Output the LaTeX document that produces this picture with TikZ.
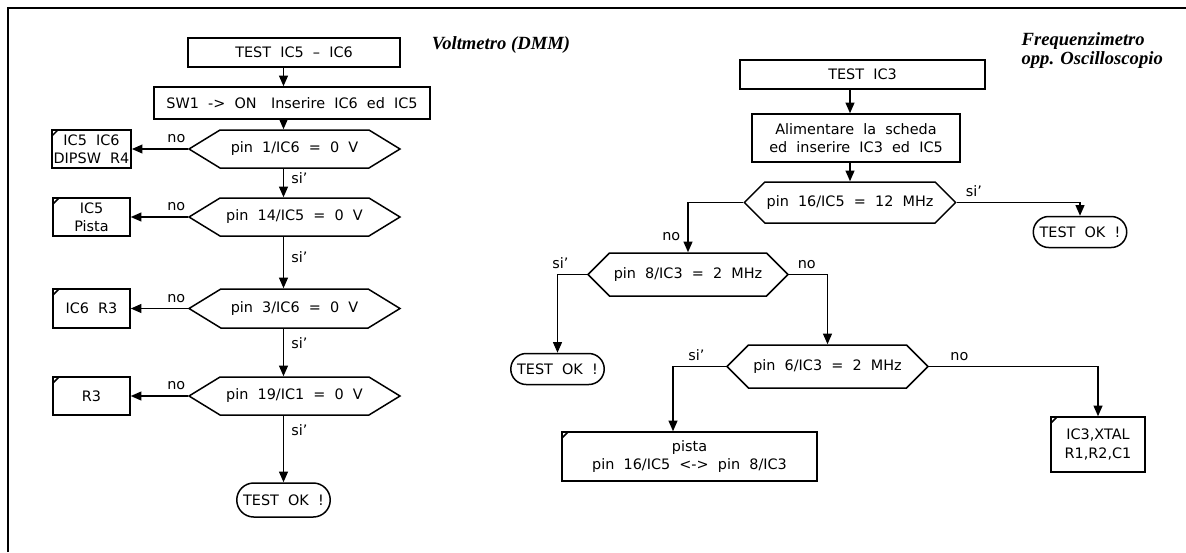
\documentclass[tikz,border=0pt]{standalone}
\usepackage{fontspec}
\setmainfont{DejaVu Sans}[WordSpace=2.0]
\newfontfamily\titlefont{Liberation Serif}
\usetikzlibrary{shapes.symbols, shapes.misc, arrows.meta}

\begin{document}
\begin{tikzpicture}[
    x=0.02cm, y=-0.02cm,
    font=\fontsize{8.2}{10.5}\selectfont,
    line width=0.85pt,
    arr/.style={-{Triangle[length=6pt, width=5pt]}},
    box/.style={rectangle, draw, inner sep=1pt, align=center},
    fault/.style={box, path picture={\draw (path picture bounding box.north west) ++(0.12cm,0) -- ++(-0.12cm,-0.12cm);}},
    hex/.style={signal, signal to=east and west, signal pointer angle=#1, draw, inner sep=1pt},
    okbox/.style={rounded rectangle, draw, inner sep=1pt, minimum width=1.94cm, minimum height=0.62cm},
    lbl/.style={inner sep=1pt},
    heading/.style={font=\titlefont\fontsize{10.6}{11}\selectfont\bfseries\itshape, align=left},
]
    \useasboundingbox (0,0) rectangle (1186,552);
    \draw[line width=1.1pt] (8,552) -- (8,8) -- (1186,8);

    % Voltmetro (DMM)
    \node[heading] (vt) at (501,45) {Voltmetro (DMM)};
    \node[box, minimum width=4.24cm, minimum height=0.58cm] (t1) at (294,52.5) {TEST IC5 -- IC6};
    \node[box, minimum width=5.52cm, minimum height=0.64cm] (s1) at (292,103) {SW1 -> ON\quad Inserire IC6 ed IC5};
    \node[hex=63, minimum width=4.22cm, minimum height=0.76cm] (h1) at (294.5,149) {pin 1/IC6 = 0 V};
    \node[hex=63, minimum width=4.22cm, minimum height=0.76cm] (h2) at (294.5,217) {pin 14/IC5 = 0 V};
    \node[hex=63, minimum width=4.22cm, minimum height=0.78cm] (h3) at (294.5,308.5) {pin 3/IC6 = 0 V};
    \node[hex=63, minimum width=4.22cm, minimum height=0.76cm] (h4) at (294.5,396) {pin 19/IC1 = 0 V};
    \node[fault, minimum width=1.54cm, minimum height=0.76cm] (b1) at (91.5,149) {IC5 IC6\\DIPSW R4};
    \node[fault, minimum width=1.54cm, minimum height=0.76cm] (b2) at (91.5,217) {IC5\\Pista};
    \node[fault, minimum width=1.54cm, minimum height=0.78cm] (b3) at (91.5,308.5) {IC6 R3};
    \node[fault, minimum width=1.54cm, minimum height=0.76cm] (b4) at (91.5,396) {R3};
    \node[okbox, minimum height=0.68cm] (ok1) at (283.5,500) {TEST OK !};

    \draw[arr] (t1.south -| ok1) -- (s1.north -| ok1);
    \draw[arr] (s1.south -| ok1) -- (h1.north -| ok1);
    \draw[arr] (h1.south -| ok1) -- node[lbl, right=3pt, pos=0.33]{si'} (h2.north -| ok1);
    \draw[arr] (h2.south -| ok1) -- node[lbl, right=3pt, pos=0.4]{si'} (h3.north -| ok1);
    \draw[arr] (h3.south -| ok1) -- node[lbl, right=3pt, pos=0.3]{si'} (h4.north -| ok1);
    \draw[arr] (h4.south -| ok1) -- node[lbl, right=3pt, pos=0.22]{si'} (ok1.north);
    \draw[arr] (h1.west) -- node[lbl, above=2pt, pos=0.2]{no} (b1.east);
    \draw[arr] (h2.west) -- node[lbl, above=2pt, pos=0.2]{no} (b2.east);
    \draw[arr] (h3.west) -- node[lbl, above=2pt, pos=0.2]{no} (b3.east);
    \draw[arr] (h4.west) -- node[lbl, above=2pt, pos=0.2]{no} (b4.east);

    % Frequenzimetro
    \node[heading, anchor=north west] (ft) at (1015,26) {Frequenzimetro\\opp. Oscilloscopio};
    \node[box, minimum width=4.9cm, minimum height=0.58cm] (t2) at (862.5,74.5) {TEST IC3};
    \node[box, minimum width=4.16cm, minimum height=0.96cm] (a2) at (856,138) {Alimentare la scheda\\ed inserire IC3 ed IC5};
    \node[hex=90, minimum width=4cm, minimum height=0.82cm] (hA) at (850,202.5) {pin 16/IC5 = 12 MHz};
    \node[hex=90, minimum width=4cm, minimum height=0.86cm] (hB) at (688,274.5) {pin 8/IC3 = 2 MHz};
    \node[hex=90, minimum width=4.02cm, minimum height=0.86cm] (hC) at (827.5,366.5) {pin 6/IC3 = 2 MHz};
    \node[okbox] (ok2) at (1080,232) {TEST OK !};
    \node[okbox] (ok3) at (557.5,369) {TEST OK !};
    \node[fault, minimum width=5.1cm, minimum height=0.98cm] (p) at (689.5,456.5) {pista\\pin 16/IC5 <-> pin 8/IC3};
    \node[fault, minimum width=1.88cm, minimum height=1.1cm] (x1) at (1098,444.5) {IC3,XTAL\\R1,R2,C1};

    \draw[arr] (t2.south -| hA) -- (a2.north -| hA);
    \draw[arr] (a2.south -| hA) -- (hA.north);
    \draw[arr] (hA.west) -| node[lbl, left=3pt, pos=0.84]{no} (hB.north);
    \draw[arr] (hA.east) -| node[lbl, above=2pt, pos=0.07]{si'} (ok2.north);
    \draw[arr] (hB.west) -| node[lbl, above=2pt, pos=0.45]{si'} (ok3.north);
    \draw[arr] (hB.east) -| node[lbl, above=2pt, pos=0.23]{no} (hC.north);
    \draw[arr] (hC.west) -| node[lbl, above=2pt, pos=0.28]{si'} ([xshift=-0.33cm]p.north);
    \draw[arr] (hC.east) -| node[lbl, above=2pt, pos=0.09]{no} (x1.north);
\end{tikzpicture}
\end{document}
